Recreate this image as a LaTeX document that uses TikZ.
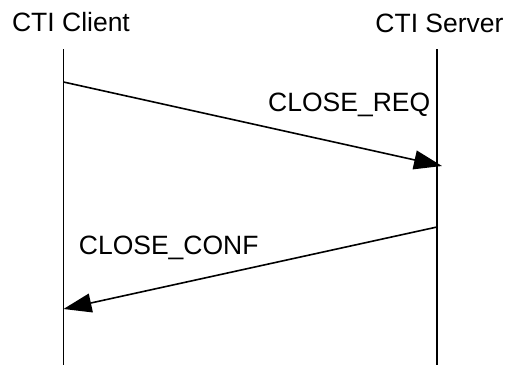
\documentclass[tikz,border=0pt]{standalone}
\usepackage{fontspec}
\setmainfont{Liberation Sans}
\usetikzlibrary{
  arrows.meta
}
\begin{document}
\begin{tikzpicture}[
  x=1pt, y=-1pt,
  every node/.style = {font=\fontsize{26.5}{30}\selectfont, inner sep=0pt},
  lifeline/.style = {line width=1.6pt},
  message/.style = {line width=1.6pt, -{Triangle[length=28pt,width=19pt]}}]
  \useasboundingbox (0,0) rectangle (508,365);
  \node[anchor=base] (client) at (71,31.7) {CTI Client};
  \node[anchor=base] (server) at (439.5,32) {CTI Server};
  \coordinate (clienttop) at (63.5,49);
  \coordinate (clientbot) at (63.5,365);
  \coordinate (servertop) at (437,49);
  \coordinate (serverbot) at (437,365);
  \draw[lifeline] (clienttop) -- (clientbot);
  \draw[lifeline] (servertop) -- (serverbot);
  % messages
  \coordinate (req start) at (63.5,82);
  \coordinate (req end) at (442,166);
  \coordinate (conf start) at (437,227);
  \coordinate (conf end) at (63.5,309);
  \draw[message] (req start) -- (req end);
  \draw[message] (conf start) -- (conf end);
  \node[anchor=base west] (req) at (268,111.5) {CLOSE\_REQ};
  \node[anchor=base west] (conf) at (78.7,254) {CLOSE\_CONF};
\end{tikzpicture}
\end{document}
